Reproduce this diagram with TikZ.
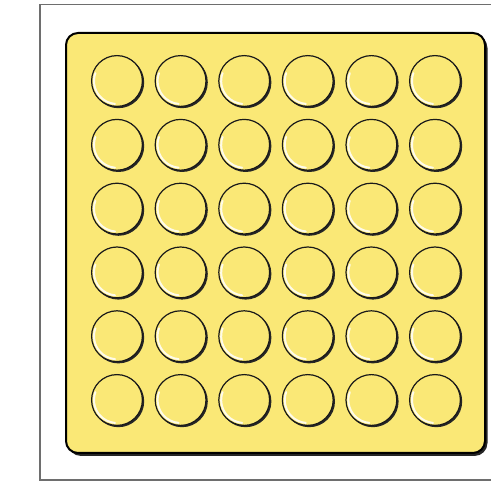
\documentclass[tikz,border=0pt]{standalone}
\definecolor{padyellow}{RGB}{250,232,118}
\definecolor{framegray}{RGB}{110,110,110}
\tikzset{
  hole/.style={fill=padyellow, draw=black!90, line width=1.2pt},
  holeshadow/.style={fill=black!85},
  highlight/.style={draw=white, line width=2pt, line cap=round, opacity=0.85},
}
\begin{document}
\begin{tikzpicture}[x=1pt,y=-1pt]
\useasboundingbox (0,0) rectangle (491,486);
\fill[white] (0,0) rectangle (491,486);
% outer frame
\draw[framegray, line width=1.6pt] (491,4.5) -- (40,4.5) -- (40,480) -- (491,480);
% pad shadow
\fill[black!85, rounded corners=13pt] (68,35) rectangle (487.5,456);
% pad
\draw[fill=padyellow, draw=black, line width=2pt, rounded corners=12pt] (66,33) rectangle (485,453);
% holes
\foreach \i in {0,...,5}{
  \foreach \j in {0,...,5}{
    \pgfmathsetmacro{\cx}{117+63.6*\i}
    \pgfmathsetmacro{\cy}{81+63.8*\j}
    \fill[holeshadow] (\cx+1.4,\cy+1.4) circle (25.8);
    \draw[hole] (\cx,\cy) circle (25.4);
    \draw[highlight] (\cx,\cy) ++(200:23) arc[start angle=200, end angle=95, radius=23];
  }
}
\end{tikzpicture}
\end{document}
